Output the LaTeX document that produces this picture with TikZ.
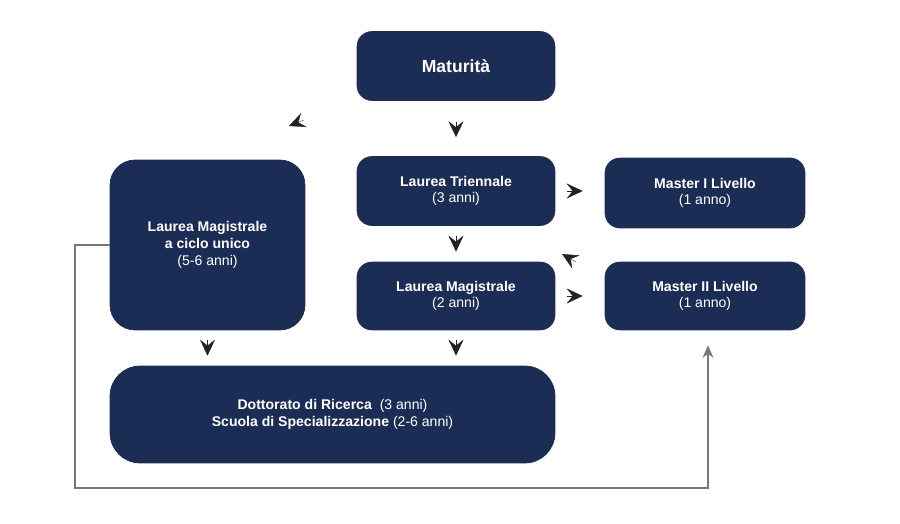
\documentclass[tikz,border=0pt]{standalone}
\usepackage{fontspec}
\setmainfont{Liberation Sans}
\usetikzlibrary{arrows.meta,calc}
\definecolor{navy}{HTML}{1C2D55}
\definecolor{tipgray}{HTML}{222222}
\definecolor{linegray}{HTML}{777777}

\begin{document}
\begin{tikzpicture}[x=0.02cm, y=-0.02cm,
  box/.style={rectangle, rounded corners=0.3cm, fill=navy, draw=navy, text=white,
    align=center, font=\footnotesize, inner sep=2pt},
  head/.style 2 args={draw=tipgray, line width=0.2pt, -{Stealth[length=0.32cm, width=0.3cm, inset=0.12cm]},
    shorten <=#1, shorten >=#2},
]
\useasboundingbox (0,0) rectangle (900,524);

% Boxes
\node[box, minimum width=3.96cm, minimum height=1.38cm, font=\normalsize\bfseries] (mat) at (456,66) {Maturità};
\node[box, minimum width=3.96cm, minimum height=1.38cm] (tri) at (456,191) {\textbf{Laurea Triennale}\\(3 anni)};
\node[box, minimum width=3.96cm, minimum height=1.36cm] (mag) at (456,296) {\textbf{Laurea Magistrale}\\(2 anni)};
\node[box, minimum width=3.9cm, minimum height=3.4cm, rounded corners=0.5cm] (ciclo) at (207.5,245) {\textbf{Laurea Magistrale}\\\textbf{a ciclo unico}\\(5-6 anni)};
\node[box, minimum width=4cm, minimum height=1.4cm] (mI) at (705,193) {\textbf{Master I Livello}\\(1 anno)};
\node[box, minimum width=4cm, minimum height=1.36cm] (mII) at (705,296) {\textbf{Master II Livello}\\(1 anno)};
\node[box, minimum width=8.9cm, minimum height=1.94cm, rounded corners=0.6cm] (dott) at (332.5,414.5)
  {\textbf{Dottorato di Ricerca} \ (3 anni)\\\textbf{Scuola di Specializzazione} (2-6 anni)};

% Arrowheads
\coordinate (h1a) at (304,120);
\coordinate (h1b) at (289,126);
\coordinate (h2a) at (576,262);
\coordinate (h2b) at (562,254);
\draw[head={0.42cm}{0.38cm}] (mat.south) -- (tri.north);
\draw[head={0.2cm}{0.2cm}] (tri.south) -- (mag.north);
\draw[head={0.2cm}{0.2cm}] (mag.south) -- (mag.south |- dott.north);
\draw[head={0.2cm}{0.2cm}] (ciclo.south) -- (ciclo.south |- dott.north);
\draw[head={0.24cm}{0.44cm}] (tri.east) -- (tri.east -| mI.west);
\draw[head={0.24cm}{0.44cm}] (mag.east) -- (mag.east -| mII.west);
\draw[head={0cm}{0cm}] (h1a) -- (h1b);
\draw[head={0cm}{0cm}] (h2a) -- (h2b);

% Line to Master II
\draw[linegray, line width=0.6pt, -{Stealth[length=0.25cm, width=0.22cm]}]
  (ciclo.west) -| (75,488) -| ([xshift=0.06cm, yshift=-0.3cm]mII.south);

\end{tikzpicture}
\end{document}
